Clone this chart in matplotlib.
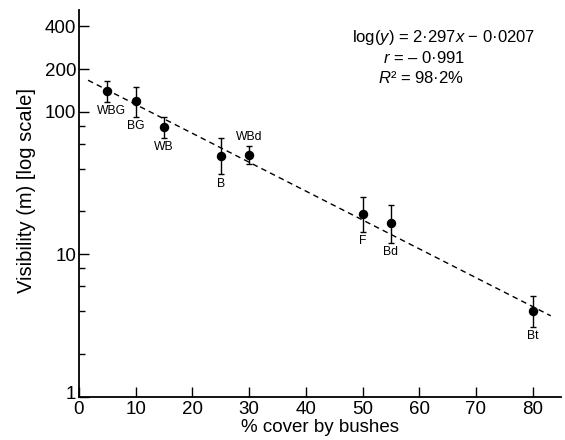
import numpy as np
import matplotlib
matplotlib.use('Agg')
import matplotlib.pyplot as plt
import matplotlib.transforms as mtransforms
from matplotlib.ticker import FixedLocator, NullFormatter

plt.rcParams['font.family'] = ['Liberation Sans', 'DejaVu Sans']
plt.rcParams['mathtext.fontset'] = 'custom'
plt.rcParams['mathtext.rm'] = 'Liberation Sans'
plt.rcParams['mathtext.it'] = 'Liberation Sans:italic'

# habitat points: % bush cover vs visibility (m)
labels = ['WBG', 'BG', 'WB', 'B', 'WBd', 'F', 'Bd', 'Bt']
cover = [5, 10, 15, 25, 30, 50, 55, 80]
visibility = [141, 119, 79, 49, 50, 19.3, 16.7, 4.0]
vis_upper = [166, 149, 92, 66, 57.6, 25.4, 22.2, 5.1]
vis_lower = [118, 92.5, 66, 36.5, 43.3, 14.4, 12.1, 3.1]
label_above = [False, False, False, False, True, False, False, False]

# regression line as drawn
fit_x = [1.6, 83.2]
fit_y = [167, 3.7]

eq_lines = [r'log($\it{y}$) = 2·297$\it{x}$ − 0·0207',
            r'$\it{r}$ = – 0·991',
            r'$\it{R}$² = 98·2%']

fig = plt.figure(figsize=(5.65, 4.4), dpi=100)
ax = fig.add_axes([79 / 565, 43.3 / 440, 482 / 565, 386.7 / 440])

ax.plot(fit_x, fit_y, color='black', lw=1.0, dashes=(4, 3), zorder=1)

v = np.array(visibility)
yerr = [v - np.array(vis_lower), np.array(vis_upper) - v]
ax.errorbar(cover, visibility, yerr=yerr, fmt='o', color='black',
            ms=5.8, elinewidth=1.0, capsize=2.3, capthick=1.0, zorder=3)

for i, lab in enumerate(labels):
    if label_above[i]:
        ax.annotate(lab, (cover[i], vis_upper[i]), xytext=(0, 2.5),
                    textcoords='offset points', ha='center', va='bottom', fontsize=8.7)
    else:
        ax.annotate(lab, (cover[i] + (0.8 if i == 0 else 0), vis_lower[i]), xytext=(0, -2.5),
                    textcoords='offset points', ha='center', va='top', fontsize=8.7)

ax.set_yscale('log')
ax.set_xlim(0, 85)
ax.set_ylim(1, 520)

ax.set_xticks(np.arange(0, 81, 10))
ax.yaxis.set_major_locator(FixedLocator([1, 10, 100, 200, 400]))
ax.set_yticklabels(['1', '10', '100', '200', '400'])
ax.yaxis.set_minor_locator(FixedLocator([2, 4, 6, 8, 20, 40, 60, 80]))
ax.yaxis.set_minor_formatter(NullFormatter())

ax.tick_params(axis='both', which='major', direction='in', length=7, width=1.0,
               labelsize=13.5, pad=2)
ax.tick_params(axis='y', which='minor', direction='in', length=4, width=1.0)
ax.tick_params(axis='x', pad=3)

# nudge the "1" up a little, as in the original
lab1 = ax.get_yticklabels()[0]
lab1.set_transform(lab1.get_transform() + mtransforms.ScaledTranslation(0, 3 / 72, fig.dpi_scale_trans))

for s in ['top', 'right']:
    ax.spines[s].set_visible(False)
for s in ['left', 'bottom']:
    ax.spines[s].set_linewidth(1.3)

ax.set_xlabel('% cover by bushes', fontsize=13.5, labelpad=1)
ax.set_ylabel('Visibility (m) [log scale]', fontsize=14.5)
ax.yaxis.set_label_coords(-0.089, 0.532)

ax.text(0.566, 0.930, eq_lines[0], transform=ax.transAxes, fontsize=12, va='center')
ax.text(0.631, 0.877, eq_lines[1], transform=ax.transAxes, fontsize=12, va='center')
ax.text(0.621, 0.825, eq_lines[2], transform=ax.transAxes, fontsize=12, va='center')

fig.savefig('out.png', dpi=100)
